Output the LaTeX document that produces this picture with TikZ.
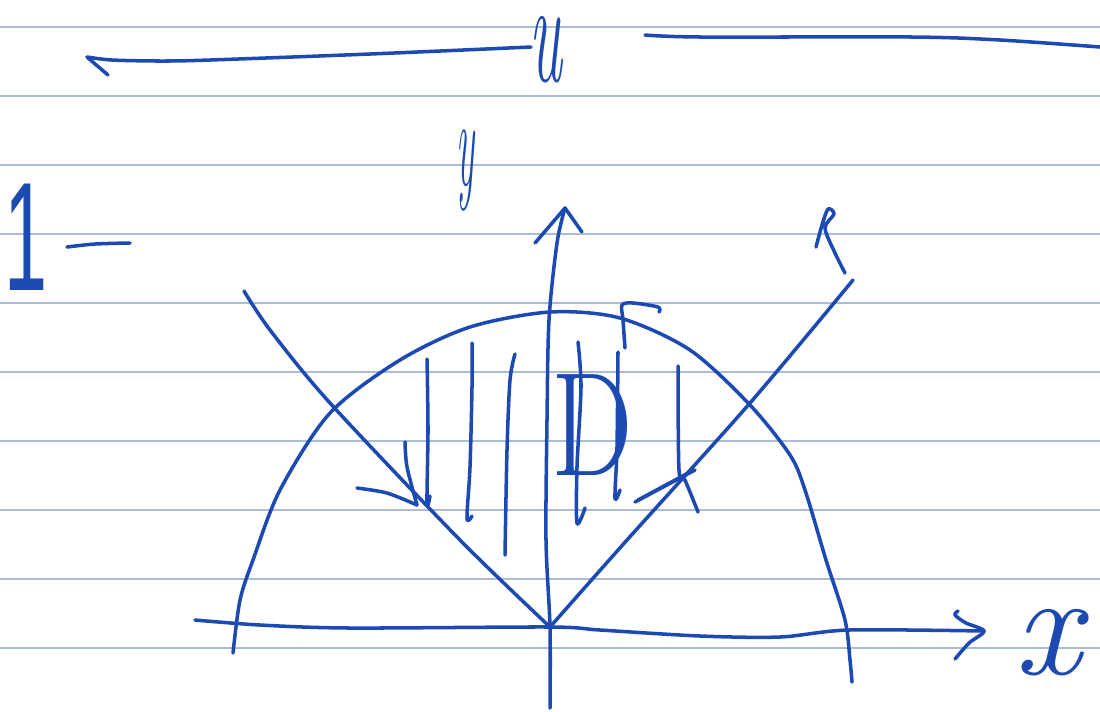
\documentclass[tikz,border=0pt]{standalone}
\usepackage{fontspec}
\usepackage{tikz}
\usetikzlibrary{arrows.meta,positioning}
\newfontfamily\handsans{Liberation Sans}
\definecolor{ink}{RGB}{28,74,178}
\definecolor{ruling}{RGB}{170,188,214}
\tikzset{
  pen/.style={ink, line width=1pt, line cap=round, line join=round},
  ruleline/.style={ruling, line width=0.35pt},
  hand/.style={ink, inner sep=0pt, outer sep=0pt},
}
\begin{document}
\begin{tikzpicture}[x=0.01cm, y=-0.01cm]
  \useasboundingbox (0,0) rectangle (1100,711);
  \fill[white] (0,0) rectangle (1100,711);
  \foreach \ry in {27,96,...,648}
    \draw[ruleline] (0,\ry) -- (1100,\ry);
  \coordinate (O) at (550,627);
  \draw[pen] (108,75) -- (87,57);
  \draw[pen] plot[smooth] coordinates {(87,57) (112,60) (161,61) (210,60) (370,54) (531,47)};
  \node[hand, font=\fontsize{42}{42}\selectfont\itshape, xscale=0.42] (ulabel) at (546,50) {u};
  \draw[pen] plot[smooth] coordinates {(645,35) (701,37) (912,37) (1000,40) (1100,47)};
  \node[hand, font=\fontsize{36}{36}\selectfont\itshape, xscale=0.3] (ylabel) at (466,170) {y};
  \node[hand, font=\handsans\fontsize{44}{44}\selectfont, xscale=0.5] (one) at (26,237) {1};
  \draw[pen] plot[smooth] coordinates {(67,247) (95,244) (130,243)};
  \draw[pen] plot[smooth] coordinates {(550,708) (550,627) (546,540) (547,420) (549,320) (557,243) (565,208)};
  \draw[pen] (535,243) -- (565,208) -- (582,232);
  \draw[pen] plot[smooth] coordinates {(195,620) (260,625) (350,628) (550,627) (600,630) (700,636) (780,637) (849,630) (984,631)};
  \draw[pen] plot[smooth] coordinates {(958,611) (955,615) (966,623) (984,631) (969,643) (955,659)};
  \node[hand, font=\fontsize{42}{42}\selectfont\itshape] (xlabel) at (1048,643) {x};
  \draw[pen] plot[smooth] coordinates {(233,653) (240,600) (253,560) (280,490) (330,413) (400,360) (470,327) (550,312) (620,318) (690,350) (750,405) (790,455) (805,490) (826,560) (845,620) (850,660) (852,682)};
  \draw[pen] plot[smooth] coordinates {(244,291) (270,330) (330,403) (460,540) (O)};
  \draw[pen] plot[smooth] coordinates {(O) (627,540) (750,403) (853,280)};
  \draw[pen] plot[smooth] coordinates {(816,247) (822,225) (828,209) (834,214) (825,228) (835,253) (845,273)};
  \draw[pen] plot[smooth] coordinates {(427,359) (428,430) (427,503) (430,496)};
  \draw[pen] plot[smooth] coordinates {(357,488) (387,493) (417,505)};
  \draw[pen] plot[smooth] coordinates {(405,442) (407,467) (417,505)};
  \draw[pen] plot[smooth] coordinates {(472,343) (472,387) (470,467) (467,518) (472,516)};
  \draw[pen] plot[smooth] coordinates {(515,354) (510,380) (507,450) (505,555)};
  \draw[pen] plot[smooth] coordinates {(578,342) (581,387) (577,467) (577,523) (585,508)};
  \draw[pen] plot[smooth] coordinates {(618,352) (617,447) (615,498) (620,490)};
  \draw[pen] plot[smooth] coordinates {(678,366) (679,470) (685,480) (698,512)};
  \draw[pen] plot[smooth] coordinates {(625,348) (623,320) (622,305) (633,303) (658,307) (659,312)};
  \draw[pen] (635,502) -- (695,470);
  \draw[pen] (638,500) -- (690,472);
  \node[hand, font=\fontsize{42}{42}\selectfont, xscale=0.78] (Dlabel) at (592,425) {D};
\end{tikzpicture}
\end{document}
